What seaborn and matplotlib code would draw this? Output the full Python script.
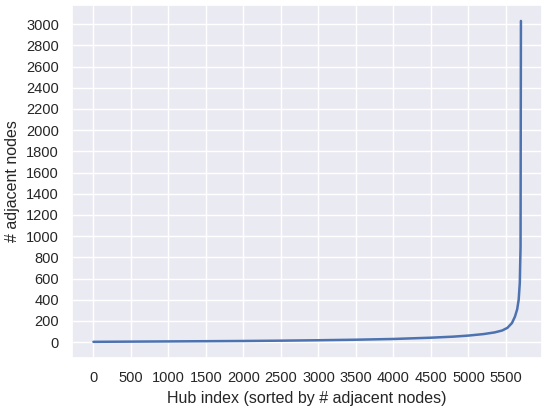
import matplotlib
matplotlib.use("Agg")
import matplotlib.pyplot as plt
import pandas as pd
import seaborn as sns

# hub index (sorted) and number of adjacent nodes
hub_index = [0, 500, 1000, 1500, 2000, 2500, 3000, 3500, 4000, 4500, 4800,
             5000, 5200, 5350, 5450, 5520, 5580, 5620, 5650, 5670, 5685,
             5695, 5700]
adjacent = [3, 5, 7, 9, 11, 14, 18, 23, 30, 42, 52,
            62, 76, 92, 110, 135, 180, 240, 310, 400, 560,
            900, 3030]

sns.set_theme(style="darkgrid")
plt.rcParams["font.family"] = ["Liberation Sans", "DejaVu Sans"]

df = pd.DataFrame({"hub": hub_index, "deg": adjacent})

fig = plt.figure(figsize=(5.5, 4.09), dpi=100)
ax = fig.add_axes([0.131, 0.125, 0.855, 0.863])
sns.lineplot(data=df, x="hub", y="deg", ax=ax, color="#4c72b0", linewidth=1.8)

ax.set_xticks(range(0, 5501, 500))
ax.set_yticks(range(0, 3001, 200))
ax.tick_params(labelsize=10.5)
ax.set_xlabel("Hub index (sorted by # adjacent nodes)", fontsize=11.5)
ax.set_ylabel("# adjacent nodes", fontsize=11.5)

fig.savefig("out.png", dpi=100, facecolor="white")
